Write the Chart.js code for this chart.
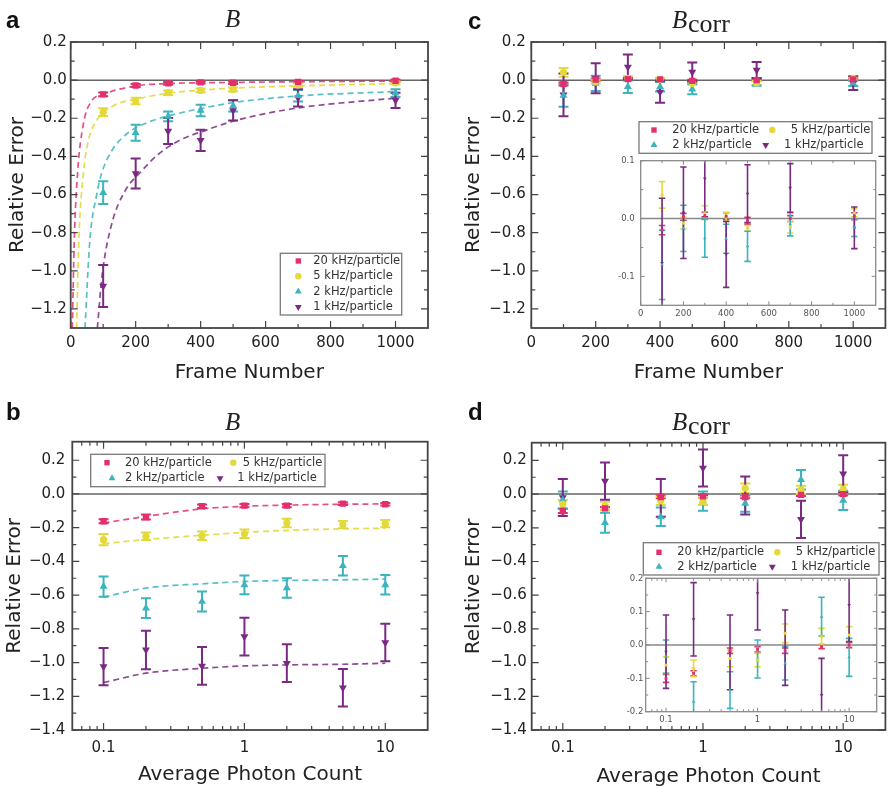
<!DOCTYPE html>
<html><head><meta charset="utf-8">
<script src="https://cdn.jsdelivr.net/npm/chart.js@4.4.1/dist/chart.umd.min.js"></script>
<style>
html,body{margin:0;padding:0;background:#fff}
body{width:888px;height:789px;overflow:hidden;position:relative}
canvas{position:absolute;display:block}
.pl{position:absolute;font:bold 24px "Liberation Sans",Arial,sans-serif;line-height:24px;color:#111;white-space:nowrap}
.tB{position:absolute;font:italic 25px "Liberation Serif",serif;line-height:25px;color:#222;white-space:nowrap}
.tS{position:absolute;font:26px "Liberation Serif",serif;line-height:26px;color:#222;white-space:nowrap}
</style></head><body>
<canvas id="cA" width="444" height="390" style="left:0;top:0"></canvas>
<canvas id="cC" width="446" height="390" style="left:444px;top:0"></canvas>
<canvas id="cB" width="444" height="399" style="left:0;top:390px"></canvas>
<canvas id="cD" width="446" height="399" style="left:444px;top:390px"></canvas>
<canvas id="cCi" width="278" height="205" style="left:610px;top:118px"></canvas>
<canvas id="cDi" width="278" height="190" style="left:610px;top:538px"></canvas>
<div class="pl" style="left:6px;top:7.7px">a</div>
<div class="pl" style="left:468px;top:8.7px">c</div>
<div class="pl" style="left:6px;top:399.7px">b</div>
<div class="pl" style="left:468px;top:399.7px">d</div>
<div class="tB" style="left:225px;top:6.4px">B</div>
<div class="tB" style="left:225px;top:409px">B</div>
<div class="tB" style="left:672px;top:7.4px">B</div><div class="tS" style="left:688px;top:11.2px">corr</div>
<div class="tB" style="left:672px;top:409px">B</div><div class="tS" style="left:688px;top:413.2px">corr</div>
<script>
// ---------------- data ----------------
const frameNumbers = [100, 200, 300, 400, 500, 700, 1000];
const photonCounts = [0.1, 0.2, 0.5, 1, 2, 5, 10];
const seriesLabels = ['20 kHz/particle', '5 kHz/particle', '2 kHz/particle', '1 kHz/particle'];

// (a) B vs frame number
const a20 = [-0.075, -0.028, -0.017, -0.012, -0.014, -0.009, -0.003];
const a20Err = [0.010, 0.008, 0.007, 0.006, 0.006, 0.006, 0.006];
const a5 = [-0.168, -0.110, -0.066, -0.054, -0.049, -0.025, -0.015];
const a5Err = [0.020, 0.017, 0.012, 0.010, 0.010, 0.010, 0.008];
const a2 = [-0.590, -0.276, -0.190, -0.159, -0.135, -0.082, -0.068];
const a2Err = [0.060, 0.042, 0.025, 0.030, 0.030, 0.030, 0.020];
const a1 = [-1.080, -0.490, -0.267, -0.316, -0.159, -0.093, -0.106];
const a1Err = [0.110, 0.079, 0.068, 0.056, 0.053, 0.045, 0.040];
// (a) dashed fit curves
const aFit20X = [5, 11, 21, 39, 64, 100, 197, 300, 500, 700, 1000];
const aFit20Y = [-1.30, -0.84, -0.49, -0.23, -0.11, -0.075, -0.031, -0.018, -0.012, -0.008, -0.005];
const aFit5X = [18, 25, 39, 54, 85, 100, 146, 197, 290, 392, 500, 700, 1000];
const aFit5Y = [-1.30, -0.84, -0.49, -0.32, -0.198, -0.170, -0.122, -0.101, -0.070, -0.054, -0.042, -0.030, -0.018];
const aFit2X = [44, 59, 80, 95, 126, 177, 248, 340, 412, 500, 700, 1000];
const aFit2Y = [-1.30, -0.84, -0.60, -0.49, -0.372, -0.276, -0.215, -0.171, -0.145, -0.118, -0.083, -0.060];
const aFit1X = [82, 97, 126, 167, 218, 269, 330, 422, 500, 683, 1000];
const aFit1Y = [-1.30, -1.02, -0.756, -0.582, -0.477, -0.390, -0.320, -0.259, -0.215, -0.150, -0.094];

// (b) B vs average photon count
const b20 = [-0.162, -0.137, -0.073, -0.069, -0.069, -0.057, -0.061];
const b20Err = [0.012, 0.015, 0.010, 0.010, 0.010, 0.008, 0.008];
const b5 = [-0.271, -0.251, -0.248, -0.236, -0.172, -0.182, -0.176];
const b5Err = [0.033, 0.022, 0.025, 0.025, 0.025, 0.022, 0.022];
const b2 = [-0.549, -0.677, -0.638, -0.539, -0.558, -0.426, -0.539];
const b2Err = [0.060, 0.059, 0.059, 0.056, 0.058, 0.058, 0.058];
const b1 = [-1.024, -0.925, -1.020, -0.846, -1.004, -1.149, -0.881];
const b1Err = [0.111, 0.114, 0.112, 0.112, 0.112, 0.111, 0.111];
const bFit20 = [-0.172, -0.133, -0.088, -0.073, -0.066, -0.061, -0.059];
const bFit5 = [-0.295, -0.270, -0.245, -0.228, -0.216, -0.207, -0.203];
const bFit2 = [-0.612, -0.558, -0.533, -0.519, -0.513, -0.509, -0.505];
const bFit1 = [-1.119, -1.063, -1.034, -1.020, -1.014, -1.010, -1.004];

// (c) B_corr vs frame number
const c20 = [-0.020, 0.003, 0.005, 0.004, -0.004, 0.000, 0.004];
const c20Err = [0.008, 0.006, 0.006, 0.006, 0.006, 0.005, 0.006];
const c5 = [0.041, -0.008, 0.010, 0.003, -0.017, -0.015, 0.010];
const c5Err = [0.023, 0.010, 0.012, 0.008, 0.005, 0.010, 0.007];
const c2 = [-0.080, -0.017, -0.034, -0.035, -0.048, -0.010, -0.016];
const c2Err = [0.060, 0.040, 0.033, 0.025, 0.026, 0.020, 0.015];
const c1 = [-0.077, 0.010, 0.069, -0.062, 0.043, 0.053, -0.016];
const c1Err = [0.112, 0.079, 0.066, 0.057, 0.050, 0.042, 0.036];

// (d) B_corr vs average photon count
const d20 = [-0.100, -0.085, -0.017, -0.013, -0.017, -0.005, 0.000];
const d20Err = [0.012, 0.008, 0.008, 0.008, 0.008, 0.006, 0.008];
const d5 = [-0.060, -0.070, -0.040, -0.045, 0.035, 0.025, 0.030];
const d5Err = [0.025, 0.025, 0.025, 0.020, 0.028, 0.025, 0.025];
const d2 = [-0.035, -0.170, -0.135, -0.042, -0.055, 0.085, -0.037];
const d2Err = [0.050, 0.060, 0.055, 0.057, 0.050, 0.058, 0.057];
const d1 = [-0.020, 0.077, -0.022, 0.155, -0.008, -0.150, 0.120];
const d1Err = [0.110, 0.110, 0.112, 0.110, 0.113, 0.110, 0.110];

// tick values
const frameTicks = [0, 200, 400, 600, 800, 1000];
const frameMinorTicks = [100, 300, 500, 700, 900];
const photonTicks = [0.1, 1, 10];
const photonMinorTicks = [0.07, 0.08, 0.09, 0.2, 0.3, 0.4, 0.5, 0.6, 0.7, 0.8, 0.9, 2, 3, 4, 5, 6, 7, 8, 9];
const errTicksA = [0.2, 0.0, -0.2, -0.4, -0.6, -0.8, -1.0, -1.2];
const errMinorA = [0.1, -0.1, -0.3, -0.5, -0.7, -0.9, -1.1];
const errTicksB = [0.2, 0.0, -0.2, -0.4, -0.6, -0.8, -1.0, -1.2, -1.4];
const errMinorB = [0.1, -0.1, -0.3, -0.5, -0.7, -0.9, -1.1, -1.3];
const insetCTicks = [0.1, 0.0, -0.1];
const insetCMinor = [0.05, -0.05];
const insetDTicks = [0.2, 0.1, 0.0, -0.1, -0.2];
const insetDMinor = [0.15, 0.05, -0.05, -0.15];

// ---------------- style ----------------
const seriesColors = ['#e2306d', '#e3d93a', '#3bb4be', '#7a2a82'];
const fitColors = ['rgba(226,48,109,0.85)', 'rgba(227,217,58,0.9)', 'rgba(59,180,190,0.85)', 'rgba(122,42,130,0.85)'];
const markerStyles = ['rect', 'circle', 'triangle', 'triangle'];
const markerRot = [0, 0, 0, 180];
const markerRadius = [4.5, 3.6, 4.6, 4.6];
const FONT = 'DejaVu Sans';

function pts(xs, ys) { return xs.map((x, i) => ({x: x, y: ys[i]})); }
function markerSets(xs, vals, errs, k) {
  return vals.map((v, s) => ({
    label: seriesLabels[s], data: pts(xs, v), errors: errs[s], showLine: false,
    pointStyle: markerStyles[s], pointRotation: markerRot[s], pointRadius: markerRadius[s] * k,
    pointHoverRadius: markerRadius[s] * k, backgroundColor: seriesColors[s], borderColor: seriesColors[s],
    pointBorderWidth: 0, order: 1
  }));
}
function fitSets(xsList, ysList) {
  return ysList.map((ys, s) => ({
    label: seriesLabels[s] + ' fit', data: pts(xsList[s], ys), showLine: true, pointRadius: 0,
    borderColor: fitColors[s], backgroundColor: fitColors[s], borderWidth: 1.7, borderDash: [6, 4],
    cubicInterpolationMode: 'monotone', fill: false, order: 5
  }));
}

function decoPlugin(c) {
  return {
    id: 'deco',
    beforeDatasetsDraw(chart) {
      const ctx = chart.ctx, a = chart.chartArea, xs = chart.scales.x, ys = chart.scales.y;
      ctx.save();
      const pz = ys.getPixelForValue(0);
      ctx.strokeStyle = c.zeroColor; ctx.lineWidth = c.zeroWidth;
      ctx.beginPath(); ctx.moveTo(a.left, pz); ctx.lineTo(a.right, pz); ctx.stroke();
      ctx.beginPath(); ctx.rect(a.left, a.top, a.right - a.left, a.bottom - a.top); ctx.clip();
      chart.data.datasets.forEach(ds => {
        if (!ds.errors) return;
        ctx.strokeStyle = ds.borderColor; ctx.lineWidth = c.barWidth;
        ds.data.forEach((p, i) => {
          const e = ds.errors[i], px = xs.getPixelForValue(p.x);
          const t = ys.getPixelForValue(p.y + e), b = ys.getPixelForValue(p.y - e);
          ctx.beginPath();
          ctx.moveTo(px, t); ctx.lineTo(px, b);
          ctx.moveTo(px - c.cap, t); ctx.lineTo(px + c.cap, t);
          ctx.moveTo(px - c.cap, b); ctx.lineTo(px + c.cap, b);
          ctx.stroke();
        });
      });
      ctx.restore();
    },
    afterDraw(chart) {
      const ctx = chart.ctx, a = chart.chartArea, xs = chart.scales.x, ys = chart.scales.y;
      const l = a.left, r = a.right, t = a.top, b = a.bottom;
      ctx.save();
      ctx.strokeStyle = c.tickColor; ctx.lineWidth = c.tickWidth;
      const tx = (vals, len) => vals.forEach(v => {
        const p = xs.getPixelForValue(v); if (p < l - 0.5 || p > r + 0.5) return;
        ctx.beginPath(); ctx.moveTo(p, b); ctx.lineTo(p, b - len); ctx.moveTo(p, t); ctx.lineTo(p, t + len); ctx.stroke();
      });
      const ty = (vals, len) => vals.forEach(v => {
        const p = ys.getPixelForValue(v); if (p < t - 0.5 || p > b + 0.5) return;
        ctx.beginPath(); ctx.moveTo(l, p); ctx.lineTo(l + len, p); ctx.moveTo(r, p); ctx.lineTo(r - len, p); ctx.stroke();
      });
      tx(c.xMajor, c.majorLen); tx(c.xMinor, c.minorLen);
      ty(c.yMajor, c.majorLen); ty(c.yMinor, c.minorLen);
      ctx.strokeStyle = c.frameColor; ctx.lineWidth = c.frameWidth;
      ctx.strokeRect(l, t, r - l, b - t);
      if (c.legend) {
        const L = c.legend;
        ctx.fillStyle = '#fff';
        ctx.fillRect(L.box[0], L.box[1], L.box[2] - L.box[0], L.box[3] - L.box[1]);
        ctx.strokeStyle = '#7a7a7a'; ctx.lineWidth = 1.3;
        ctx.strokeRect(L.box[0], L.box[1], L.box[2] - L.box[0], L.box[3] - L.box[1]);
        ctx.font = '11.5px "' + FONT + '"'; ctx.textBaseline = 'middle'; ctx.textAlign = 'left';
        chart.data.datasets.filter(d => d.errors).forEach((ds, s) => {
          const y = L.rowY[L.row[s]];
          ctx.fillStyle = ds.backgroundColor;
          Chart.helpers.drawPoint(ctx, {pointStyle: ds.pointStyle, rotation: ds.pointRotation, radius: L.mr[s], borderWidth: 0}, L.mx[s], y);
          ctx.fillStyle = '#333';
          ctx.fillText(ds.label, L.tx[s], y);
        });
      }
      ctx.restore();
    }
  };
}

function xAxis(o) {
  return {
    type: o.type, position: 'bottom', min: o.min, max: o.max,
    grid: {display: false, drawTicks: false}, border: {display: false},
    afterBuildTicks: s => { s.ticks = o.ticks.map(v => ({value: v})); },
    afterFit: s => { s.height = o.size; },
    ticks: {callback: o.fmt, padding: o.pad, color: o.color, font: {family: FONT, size: o.fs}, maxRotation: 0, autoSkip: false},
    title: o.title ? {display: true, text: o.title, color: '#222', font: {family: FONT, size: 20}, padding: {top: 0, bottom: o.tpad}} : {display: false}
  };
}
function yAxis(o) {
  return {
    type: 'linear', position: 'left', min: o.min, max: o.max,
    grid: {display: false, drawTicks: false}, border: {display: false},
    afterBuildTicks: s => { s.ticks = o.ticks.map(v => ({value: v})); },
    afterFit: s => { s.width = o.size; },
    ticks: {callback: o.fmt, padding: o.pad, color: o.color, font: {family: FONT, size: o.fs}, autoSkip: false},
    title: o.title ? {display: true, text: o.title, color: '#222', font: {family: FONT, size: 20}, padding: {top: o.tpad, bottom: 0}} : {display: false}
  };
}
const fmtMain = v => Math.abs(v) < 1e-9 ? '0.0' : Number(v).toFixed(1).replace('-', '\u2212');
const fmtInset = v => Math.abs(v) < 1e-9 ? '0.0' : Number(v).toFixed(1);
const fmtInt = v => String(Math.round(v));
const fmtLog = v => String(v);

function make(id, datasets, padding, sx, sy, deco) {
  return new Chart(document.getElementById(id), {
    type: 'scatter',
    data: {datasets: datasets},
    options: {
      responsive: false, animation: false, devicePixelRatio: 1,
      layout: {padding: padding},
      plugins: {legend: {display: false}, tooltip: {enabled: false}},
      scales: {x: xAxis(sx), y: yAxis(sy)}
    },
    plugins: [decoPlugin(deco)]
  });
}
const mainDeco = {zeroColor: '#666', zeroWidth: 1.5, barWidth: 2, cap: 5, tickColor: '#444', tickWidth: 1.2,
  majorLen: 7, minorLen: 4, frameColor: '#444', frameWidth: 1.8};
const insetDeco = {zeroColor: '#888', zeroWidth: 1.5, barWidth: 1.6, cap: 3.2, tickColor: '#888', tickWidth: 1,
  majorLen: 4, minorLen: 2.5, frameColor: '#8a8a8a', frameWidth: 1.3};

// (a)
make('cA',
  markerSets(frameNumbers, [a20, a5, a2, a1], [a20Err, a5Err, a2Err, a1Err], 1)
    .concat(fitSets([aFit20X, aFit5X, aFit2X, aFit1X], [aFit20Y, aFit5Y, aFit2Y, aFit1Y])),
  {left: 0, top: 42, right: 16, bottom: 0},
  {type: 'linear', min: 0, max: 1100, ticks: frameTicks, fmt: fmtInt, pad: 6, color: '#222', fs: 15, size: 62, title: 'Frame Number', tpad: 5},
  {min: -1.3, max: 0.2, ticks: errTicksA, fmt: fmtMain, pad: 4, color: '#222', fs: 15, size: 70.7, title: 'Relative Error', tpad: 6},
  Object.assign({}, mainDeco, {xMajor: frameTicks, xMinor: frameMinorTicks, yMajor: errTicksA, yMinor: errMinorA,
    legend: {box: [280.3, 253.3, 401.7, 315], rowY: [261, 276.3, 291.6, 306.9], row: [0, 1, 2, 3],
      mx: [298.3, 298.3, 298.3, 298.3], tx: [313.3, 313.3, 313.3, 313.3], mr: [3.8, 3.2, 4, 4]}}));

// (b)
make('cB',
  markerSets(photonCounts, [b20, b5, b2, b1], [b20Err, b5Err, b2Err, b1Err], 1)
    .concat(fitSets([photonCounts, photonCounts, photonCounts, photonCounts], [bFit20, bFit5, bFit2, bFit1])),
  {left: 0, top: 51.7, right: 16.3, bottom: 0},
  {type: 'logarithmic', min: 0.06, max: 20, ticks: photonTicks, fmt: fmtLog, pad: 9.5, color: '#222', fs: 15, size: 59, title: 'Average Photon Count', tpad: 2},
  {min: -1.4, max: 0.31, ticks: errTicksB, fmt: fmtMain, pad: 7, color: '#222', fs: 15, size: 72.3, title: 'Relative Error', tpad: 3},
  Object.assign({}, mainDeco, {xMajor: photonTicks, xMinor: photonMinorTicks, yMajor: errTicksB, yMinor: errMinorB,
    legend: {box: [90.7, 64.3, 325, 96.7], rowY: [72.7, 88.3], row: [0, 0, 1, 1],
      mx: [107, 233.3, 112, 220], tx: [125, 242.7, 125, 237.3], mr: [3.8, 3.2, 4, 4]}}));

// (c)
make('cC',
  markerSets(frameNumbers, [c20, c5, c2, c1], [c20Err, c5Err, c2Err, c1Err], 1),
  {left: 0, top: 42, right: 1.2, bottom: 0},
  {type: 'linear', min: 0, max: 1100, ticks: frameTicks, fmt: fmtInt, pad: 6, color: '#222', fs: 15, size: 62, title: 'Frame Number', tpad: 5.3},
  {min: -1.3, max: 0.2, ticks: errTicksA, fmt: fmtMain, pad: 5.6, color: '#222', fs: 15, size: 87.3, title: 'Relative Error', tpad: 18},
  Object.assign({}, mainDeco, {xMajor: frameTicks, xMinor: frameMinorTicks, yMajor: errTicksA, yMinor: errMinorA}));

// (d)
make('cD',
  markerSets(photonCounts, [d20, d5, d2, d1], [d20Err, d5Err, d2Err, d1Err], 1),
  {left: 0, top: 52.7, right: 0, bottom: 0},
  {type: 'logarithmic', min: 0.06, max: 20, ticks: photonTicks, fmt: fmtLog, pad: 9, color: '#222', fs: 15, size: 59, title: 'Average Photon Count', tpad: 0.5},
  {min: -1.4, max: 0.305, ticks: errTicksB, fmt: fmtMain, pad: 5, color: '#222', fs: 15, size: 87.7, title: 'Relative Error', tpad: 18},
  Object.assign({}, mainDeco, {xMajor: photonTicks, xMinor: photonMinorTicks, yMajor: errTicksB, yMinor: errMinorB}));

// (c) inset
make('cCi',
  markerSets(frameNumbers, [c20, c5, c2, c1], [c20Err, c5Err, c2Err, c1Err], 0.45),
  {left: 0, top: 42.7, right: 12.3, bottom: 0},
  {type: 'linear', min: 0, max: 1100, ticks: frameTicks, fmt: fmtInt, pad: 3.5, color: '#555', fs: 8.5, size: 17.7, title: null},
  {min: -0.15, max: 0.1, ticks: insetCTicks, fmt: fmtInset, pad: 6, color: '#555', fs: 8.5, size: 30.7, title: null},
  Object.assign({}, insetDeco, {xMajor: frameTicks, xMinor: frameMinorTicks, yMajor: insetCTicks, yMinor: insetCMinor,
    legend: {box: [29, 3.7, 262, 35.3], rowY: [12, 27], row: [0, 0, 1, 1],
      mx: [44, 162.3, 44, 155.7], tx: [62.3, 180.7, 62.3, 174], mr: [3.8, 3.2, 4, 4]}}));

// (d) inset
make('cDi',
  markerSets(photonCounts, [d20, d5, d2, d1], [d20Err, d5Err, d2Err, d1Err], 0.45),
  {left: 0, top: 40.3, right: 11.3, bottom: 0},
  {type: 'logarithmic', min: 0.06, max: 20, ticks: photonTicks, fmt: fmtLog, pad: 3, color: '#555', fs: 8.5, size: 16.3, title: null},
  {min: -0.2, max: 0.2, ticks: insetDTicks, fmt: fmtInset, pad: 2.4, color: '#555', fs: 8.5, size: 35.7, title: null},
  Object.assign({}, insetDeco, {xMajor: photonTicks, xMinor: photonMinorTicks, yMajor: insetDTicks, yMinor: insetDMinor,
    legend: {box: [33.3, 4.7, 269, 37], rowY: [14.3, 28.7], row: [0, 0, 1, 1],
      mx: [49, 167.3, 49, 162.3], tx: [67.3, 185.7, 67.3, 180.7], mr: [3.8, 3.2, 4, 4]}}));
</script>
</body></html>
